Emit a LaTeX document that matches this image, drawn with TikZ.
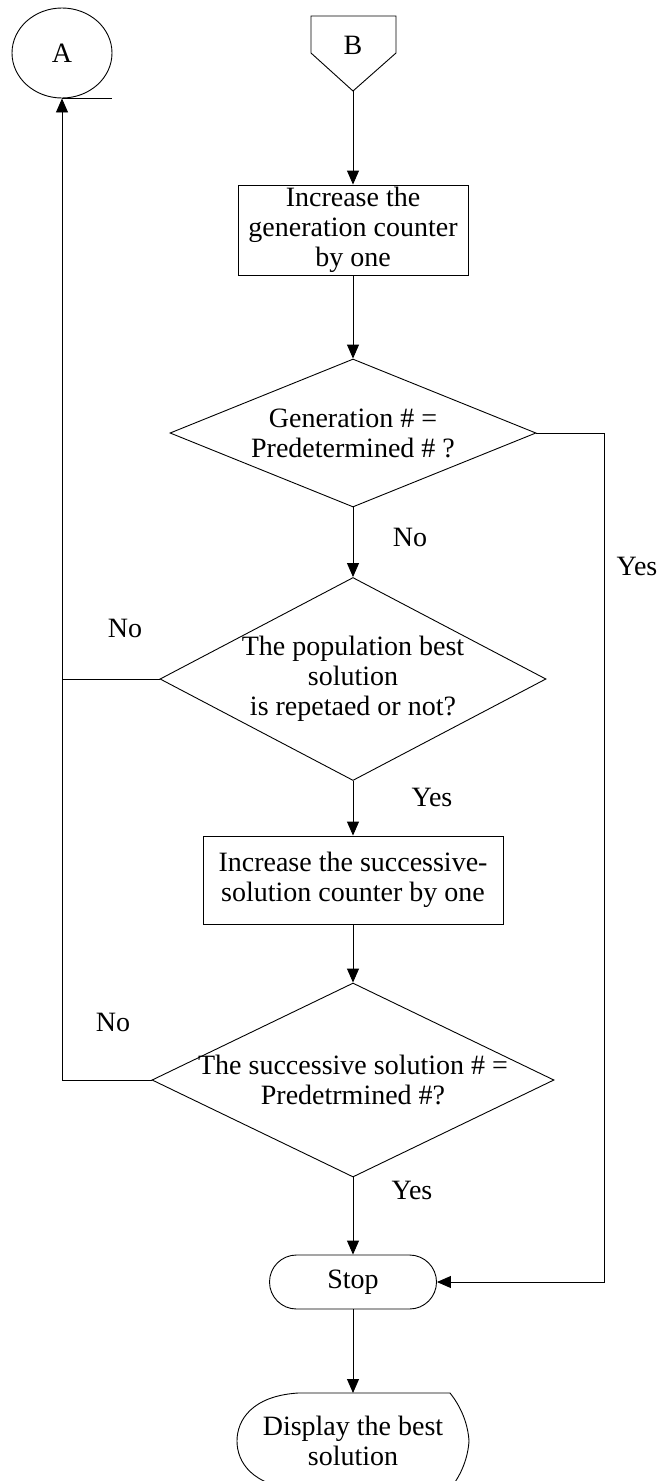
\documentclass[tikz,border=0pt]{standalone}
\usepackage{fontspec}
\setmainfont{Liberation Serif}
\usetikzlibrary{shapes.geometric,arrows.meta}
\begin{document}
\begin{tikzpicture}[x=1pt,y=-1pt,
  every node/.style={font=\fontsize{28}{30}\selectfont},
  line/.style={draw=black,line width=0.9pt},
  arr/.style={line,-{Triangle[length=14pt,width=12pt]}},
  box/.style={draw,line width=0.9pt,rectangle,inner sep=0pt,align=center},
  dia/.style={draw,line width=0.9pt,diamond,inner sep=0pt},
  txt/.style={align=center,inner sep=0pt},
  lbl/.style={inner sep=0pt}]
\useasboundingbox (0,0) rectangle (669,1481);

% connector A (circle with tangent line)
\node[draw,line width=0.9pt,ellipse,minimum width=100pt,minimum height=90pt,inner sep=0pt] (A) at (62,53) {A};
\draw[line] (A.south) -- ++(50,0);

% connector B (off-page pentagon)
\draw[line] (311,16) -- (396,16) -- (396,53) -- (353,91) -- (311,53) -- cycle;
\node[lbl] (B) at (353,45) {B};
\coordinate (Bpt) at (353,91);

% process and decision blocks
\node[box,minimum width=230pt,minimum height=90pt] (inc1) at (353,230) {Increase the\\generation counter\\by one};

\node[dia,minimum width=366pt,minimum height=148pt] (d1) at (353,433) {};
\node[txt] (d1t) at (353,433) {Generation \# =\\Predetermined \# ?};

\node[dia,minimum width=386pt,minimum height=203pt] (d2) at (353,679) {};
\node[txt] (d2t) at (353,679) {The population best\\solution\\ is repetaed or not?};

\node[box,minimum width=300pt,minimum height=88pt] (inc2) at (353,880) {Increase the successive-\\solution counter by one};

\node[dia,minimum width=402pt,minimum height=194pt] (d3) at (353,1080) {};
\node[txt] (d3t) at (353,1080) {The successive solution \# =\\Predetrmined \#?};

\node[draw,line width=0.9pt,rectangle,rounded corners=27pt,minimum width=167pt,minimum height=54pt,inner sep=0pt] (stop) at (353,1282) {Stop};

% display block
\node[txt] (disp) at (353,1441) {Display the best\\solution};
\draw[line] (298,1393) -- (450,1393)
  .. controls (462,1408) and (468,1425) .. (469,1441)
  .. controls (468,1457) and (462,1474) .. (450,1489)
  -- (298,1489)
  .. controls (252,1486) and (237,1462) .. (237,1441)
  .. controls (237,1420) and (252,1396) .. (298,1393);
\coordinate (dtop) at (353,1393);

% connectors
\draw[arr] (Bpt) -- (inc1.north);
\draw[arr] (inc1.south) -- (d1.north);
\draw[arr] (d1.south) -- (d2.north);
\draw[arr] (d2.south) -- (inc2.north);
\draw[arr] (inc2.south) -- (d3.north);
\draw[arr] (d3.south) -- (stop.north);
\draw[arr] (stop.south) -- (dtop);
\coordinate (yr) at (604,433);
\draw[arr] (d1.east) -- (yr) |- (stop.east);
\draw[line] (d2.west) -- (d2.west -| A.south);
\draw[arr] (d3.west) -| (A.south);

% branch labels
\node[lbl] (l1) at (410,537) {No};
\node[lbl] (l2) at (637,566) {Yes};
\node[lbl] (l3) at (125,628) {No};
\node[lbl] (l4) at (432,797) {Yes};
\node[lbl] (l5) at (113,1022) {No};
\node[lbl] (l6) at (412,1190) {Yes};
\end{tikzpicture}
\end{document}
